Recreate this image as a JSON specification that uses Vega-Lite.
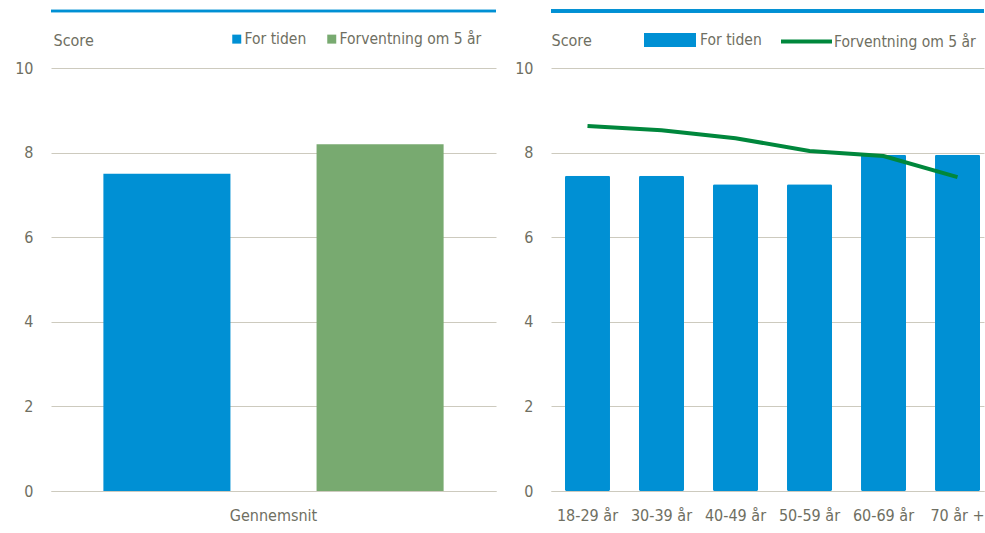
{
  "$schema": "https://vega.github.io/schema/vega-lite/v6.json",
  "padding": {"left": 14, "top": 9, "right": 0, "bottom": 5},
  "background": "white",
  "config": {
    "font": "Liberation Sans Narrow, DejaVu Sans Condensed, Roboto, sans-serif",
    "view": {"stroke": null},
    "axis": {
      "labelFont": "Liberation Sans Narrow, DejaVu Sans Condensed, Roboto, sans-serif",
      "labelFontSize": 16,
      "labelColor": "#6f6f62",
      "titleFont": "Liberation Sans Narrow, DejaVu Sans Condensed, Roboto, sans-serif",
      "titleFontSize": 16,
      "titleFontWeight": "normal",
      "titleColor": "#6f6f62",
      "gridColor": "#cdcabe",
      "domainColor": "#cdcabe",
      "ticks": false
    },
    "legend": {
      "labelFont": "Liberation Sans Narrow, DejaVu Sans Condensed, Roboto, sans-serif",
      "labelFontSize": 15.5,
      "labelColor": "#6f6f62",
      "labelLimit": 400,
      "title": null
    }
  },
  "datasets": {
    "avg": [
      {"cat": "Gennemsnit", "series": "For tiden", "score": 7.5},
      {"cat": "Gennemsnit", "series": "Forventning om 5 år", "score": 8.2}
    ],
    "age": [
      {"age": "18-29 år", "series": "For tiden", "score": 7.45},
      {"age": "30-39 år", "series": "For tiden", "score": 7.45},
      {"age": "40-49 år", "series": "For tiden", "score": 7.25},
      {"age": "50-59 år", "series": "For tiden", "score": 7.25},
      {"age": "60-69 år", "series": "For tiden", "score": 7.95},
      {"age": "70 år +", "series": "For tiden", "score": 7.95},
      {"age": "18-29 år", "series": "Forventning om 5 år", "score": 8.63},
      {"age": "30-39 år", "series": "Forventning om 5 år", "score": 8.53},
      {"age": "40-49 år", "series": "Forventning om 5 år", "score": 8.34},
      {"age": "50-59 år", "series": "Forventning om 5 år", "score": 8.04},
      {"age": "60-69 år", "series": "Forventning om 5 år", "score": 7.92},
      {"age": "70 år +", "series": "Forventning om 5 år", "score": 7.42}
    ]
  },
  "bounds": "flush",
  "spacing": 55,
  "resolve": {"legend": {"color": "independent", "fill": "independent", "stroke": "independent"}},
  "hconcat": [
    {
      "width": 445,
      "height": 423,
      "data": {"name": "avg"},
      "layer": [
        {
          "mark": {"type": "bar"},
          "encoding": {
            "x": {
              "field": "cat",
              "type": "nominal",
              "scale": {"paddingInner": 0, "paddingOuter": 0.154},
              "axis": {"title": null, "labelAngle": 0, "labelPadding": 16, "domain": true}
            },
            "xOffset": {
              "field": "series",
              "type": "nominal",
              "sort": ["For tiden", "Forventning om 5 år"],
              "scale": {"paddingInner": 0.404, "paddingOuter": 0}
            },
            "y": {
              "field": "score",
              "type": "quantitative",
              "scale": {"domain": [0, 10]},
              "axis": {
                "values": [0, 2, 4, 6, 8, 10],
                "grid": true,
                "domain": false,
                "labelPadding": 18,
                "title": "Score",
                "titleAngle": 0,
                "titleAlign": "left",
                "titleBaseline": "middle",
                "titleX": 2,
                "titleY": -28
              }
            },
            "color": {
              "field": "series",
              "type": "nominal",
              "scale": {"domain": ["For tiden", "Forventning om 5 år"], "range": ["#0090d4", "#78aa70"]},
              "legend": {
                "orient": "none",
                "direction": "horizontal",
                "legendX": 178,
                "legendY": -37,
                "symbolType": "square",
                "symbolSize": 81,
                "symbolStrokeWidth": 0,
                "labelOffset": 0,
                "columnPadding": 17
              }
            }
          }
        },
        {
          "mark": {"type": "rule", "color": "#0090d4", "strokeWidth": 2.5},
          "encoding": {"y": {"datum": 11.35, "type": "quantitative"}}
        }
      ]
    },
    {
      "width": 433,
      "height": 423,
      "data": {"name": "age"},
      "layer": [
        {
          "transform": [{"filter": "datum.series === 'For tiden'"}],
          "mark": {"type": "bar", "cornerRadius": 1.5},
          "encoding": {
            "x": {
              "field": "age",
              "type": "nominal",
              "sort": ["18-29 år", "30-39 år", "40-49 år", "50-59 år", "60-69 år", "70 år +"],
              "scale": {"paddingInner": 0.392, "paddingOuter": 0.1216, "align": 0.778},
              "axis": {"title": null, "labelAngle": 0, "labelPadding": 16, "domain": true}
            },
            "y": {
              "field": "score",
              "type": "quantitative",
              "scale": {"domain": [0, 10]},
              "axis": {
                "values": [0, 2, 4, 6, 8, 10],
                "grid": true,
                "domain": false,
                "labelPadding": 18,
                "title": "Score",
                "titleAngle": 0,
                "titleAlign": "left",
                "titleBaseline": "middle",
                "titleX": 0,
                "titleY": -28
              }
            },
            "fill": {
              "field": "series",
              "type": "nominal",
              "scale": {"domain": ["For tiden"], "range": ["#0090d4"]},
              "legend": {
                "orient": "none",
                "legendX": 93,
                "legendY": -54,
                "symbolType": "M-1,-0.27H1V0.27H-1Z",
                "symbolSize": 2704,
                "symbolStrokeWidth": 0,
                "labelOffset": 4
              }
            }
          }
        },
        {
          "transform": [{"filter": "datum.series === 'Forventning om 5 år'"}],
          "mark": {"type": "line", "strokeWidth": 4},
          "encoding": {
            "x": {
              "field": "age",
              "type": "nominal",
              "sort": ["18-29 år", "30-39 år", "40-49 år", "50-59 år", "60-69 år", "70 år +"]
            },
            "y": {"field": "score", "type": "quantitative"},
            "stroke": {
              "field": "series",
              "type": "nominal",
              "scale": {"domain": ["Forventning om 5 år"], "range": ["#00873c"]},
              "legend": {
                "orient": "none",
                "legendX": 228,
                "legendY": -54,
                "symbolType": "stroke",
                "symbolSize": 2601,
                "symbolStrokeWidth": 4,
                "labelOffset": 0
              }
            }
          }
        },
        {
          "mark": {"type": "rule", "color": "#0090d4", "strokeWidth": 2.5},
          "encoding": {"y": {"datum": 11.35, "type": "quantitative"}}
        }
      ]
    }
  ]
}
